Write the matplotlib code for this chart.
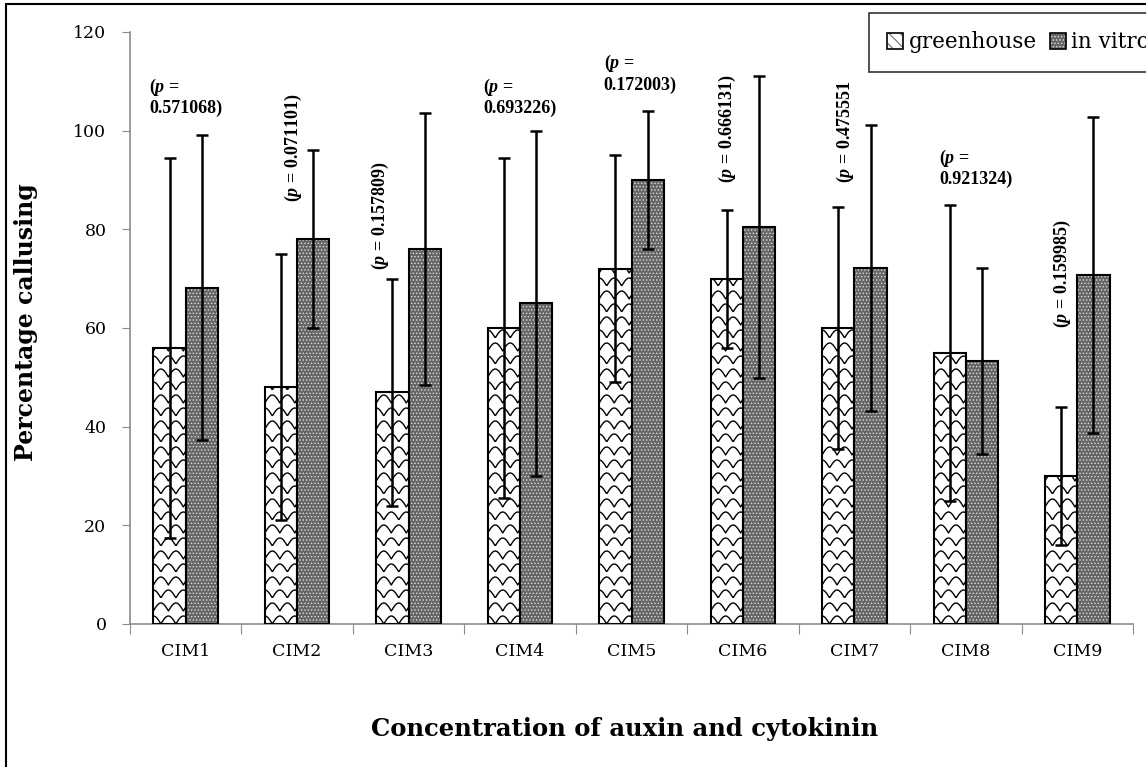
import numpy as np
import matplotlib
matplotlib.use("Agg")
import matplotlib.pyplot as plt
from matplotlib.patches import Rectangle, Patch
from matplotlib.collections import LineCollection
from matplotlib.legend_handler import HandlerTuple

# Data
categories = ["CIM1", "CIM2", "CIM3", "CIM4", "CIM5", "CIM6", "CIM7", "CIM8", "CIM9"]
greenhouse = [56, 48, 47, 60, 72, 70, 60, 55, 30]
greenhouse_sd = [38.5, 27, 23, 34.5, 23, 14, 24.5, 30, 14]
in_vitro = [68.2, 78, 76, 65, 90, 80.5, 72.2, 53.3, 70.7]
in_vitro_sd = [31, 18, 27.5, 35, 14, 30.6, 29, 18.8, 32]
p_values = ["0.571068)", "0.071101)", "0.157809)", "0.693226)", "0.172003)",
            "0.666131)", "0.475551", "0.921324)", "0.159985)"]
# how each p label is written: horizontal two-line or rotated
p_rotated = [False, True, True, False, False, True, True, False, True]
p_xoff = [-0.33, -0.035, -0.25, -0.33, -0.25, -0.14, -0.08, -0.24, -0.13]
p_ypos = [110.9, 85.5, 71.8, 110.9, 115.7, 89.4, 89.4, 96.5, 60.0]

plt.rcParams['font.family'] = 'DejaVu Serif'
plt.rcParams['mathtext.fontset'] = 'custom'
plt.rcParams['mathtext.rm'] = 'Liberation Serif:bold'
plt.rcParams['mathtext.it'] = 'Liberation Serif:bold:italic'

fig = plt.figure(figsize=(11.46, 7.67), dpi=100)
ax = fig.add_axes([130/1146, 1-624/767, 1003/1146, 592/767])

x = np.arange(len(categories))
w = 0.29
ax.set_xlim(-0.5, len(categories) - 0.5)
ax.set_ylim(0, 120)

# greenhouse bars: white with scallop pattern clipped inside
gh_bars = ax.bar(x - w/2, greenhouse, w, color='white', edgecolor='black', lw=1.3, zorder=2)
px_x = ax.bbox.width / (len(categories))
px_y = ax.bbox.height / 120.0
period = 15 / px_x
amp = 8 / px_y
row = 13 / px_y
for b in gh_bars:
    x0, wd, h = b.get_x(), b.get_width(), b.get_height()
    xs = np.linspace(x0 - period, x0 + wd + period, 80)
    segs = []
    for k, yk in enumerate(np.arange(-row, h + row, row)):
        off = (k % 2) * period / 2
        ys = yk + amp * np.abs(np.sin(np.pi * (xs - x0 - off) / period))
        segs.append(np.column_stack([xs, ys]))
    lc = LineCollection(segs, colors='black', linewidths=1.0, zorder=2.5)
    ax.add_collection(lc)
    lc.set_clip_path(b)
ax.bar(x - w/2, greenhouse, w, color='none', edgecolor='black', lw=1.5, zorder=3)

# in vitro bars: grey with fine light dots
plt.rcParams['hatch.linewidth'] = 0.6
ax.bar(x + w/2, in_vitro, w, color='#666666', edgecolor='#dcdcdc',
       hatch='.....', lw=0, zorder=2)
ax.bar(x + w/2, in_vitro, w, color='none', edgecolor='black', lw=1.5, zorder=3)

ax.errorbar(x - w/2, greenhouse, yerr=greenhouse_sd, fmt='none', ecolor='black',
            elinewidth=1.8, capsize=4.5, capthick=1.8, zorder=4)
ax.errorbar(x + w/2, in_vitro, yerr=in_vitro_sd, fmt='none', ecolor='black',
            elinewidth=1.8, capsize=4.5, capthick=1.8, zorder=4)

# p-value labels
for i in range(len(categories)):
    if p_rotated[i]:
        ax.text(i + p_xoff[i], p_ypos[i], "($p$ = " + p_values[i], rotation=90,
                ha='center', va='bottom', fontsize=13, family='Liberation Serif',
                fontweight='bold', zorder=5)
    else:
        ax.text(i + p_xoff[i], p_ypos[i], "($p$ =\n" + p_values[i],
                ha='left', va='top', fontsize=13, family='Liberation Serif',
                fontweight='bold', linespacing=1.15, zorder=5)

# axes styling
for s in ['top', 'right']:
    ax.spines[s].set_visible(False)
for s in ['left', 'bottom']:
    ax.spines[s].set_color('#8c8c8c')
    ax.spines[s].set_linewidth(1.2)
ax.set_yticks(np.arange(0, 121, 20))
ax.tick_params(axis='y', direction='out', length=6, color='#8c8c8c', labelsize=12.5, pad=11)
ax.set_xticks(np.arange(-0.5, len(categories), 1.0))
ax.set_xticklabels([])
ax.tick_params(axis='x', which='major', direction='out', length=7, color='#8c8c8c')
ax.set_xticks(x, minor=True)
ax.set_xticklabels(categories, minor=True)
ax.tick_params(axis='x', which='minor', length=0, labelsize=12.5, pad=14)

ax.set_ylabel("Percentage callusing", fontsize=17, fontweight='bold')
ax.yaxis.set_label_coords(-0.092, 0.51)
ax.set_xlabel("Concentration of auxin and cytokinin", fontsize=17.5, fontweight='bold')
ax.xaxis.set_label_coords(0.493, -0.157)

# legend
gh_h = (Patch(facecolor='white', edgecolor='#444444', hatch='\\\\\\', lw=0),
        Patch(facecolor='none', edgecolor='black', lw=1.2))
iv_h = (Patch(facecolor='#666666', edgecolor='#dcdcdc', hatch='.....', lw=0),
        Patch(facecolor='none', edgecolor='black', lw=1.2))
leg = fig.legend([gh_h, iv_h], ["greenhouse", "in vitro"], ncol=2,
                 loc='upper left', bbox_to_anchor=(869/1146, 1 - 13/767),
                 handler_map={tuple: HandlerTuple(ndivide=1, pad=0)},
                 fontsize=15.5, frameon=True, fancybox=False, edgecolor='black',
                 handlelength=0.75, handleheight=0.75, handletextpad=0.25,
                 columnspacing=0.6, borderpad=0.85, borderaxespad=0)
leg.get_frame().set_linewidth(1.2)

# outer chart frame
fig.patches.append(Rectangle((6/1146, -0.1), 2.0, 1.1 - 4/767, transform=fig.transFigure,
                             fill=False, edgecolor='black', lw=1.5))

fig.savefig("out.png", dpi=100)
